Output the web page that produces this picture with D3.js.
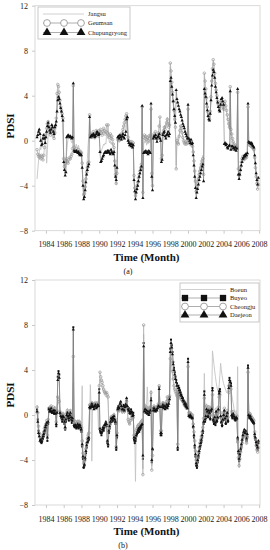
<!DOCTYPE html>
<html>
<head>
<meta charset="utf-8">
<script src="https://cdn.jsdelivr.net/npm/d3@7"></script>
<style>
  body { margin: 0; background: #fff; }
  svg { display: block; font-family: "Liberation Serif", "Times New Roman", serif; }
</style>
</head>
<body>
<div id="chart-area"></div>
<script>
// monthly PDSI, Jan 1983 .. Dec 2007 (one row per year)
const startYear = 1983;
const yearTicks = [1984, 1986, 1988, 1990, 1992, 1994, 1996, 1998, 2000, 2002, 2004, 2006, 2008];
const pdsiTicks = [-8, -4, 0, 4, 8, 12];

const jangsu = [
  -3.4, -2.6, -1.8, -1.0, -0.6, -0.8, -0.4, 0.2, 0.6, 0.4, 0.1, 0.3,
  -0.4, -2.0, -0.8, 0.5, 1.0, 1.2, 0.9, 0.6, 1.1, 0.8, 0.5, 0.3,
  0.5, 0.9, 1.6, 3.5, 4.6, 4.4, 4.0, 3.4, 2.8, 2.4, 2.0, 1.6,
  -1.2, -2.0, -2.6, -2.2, -1.0, -0.3, 0.2, 0.6, 0.4, 0.2, 0.0, -0.2,
  -0.2, 4.6, -0.5, -0.4, -0.6, -0.3, -0.5, -0.7, -0.4, -0.8, -0.9, -0.8,
  -1.0, -2.2, -3.8, -4.5, -4.3, -3.7, -3.0, -2.4, -1.6, -0.4, 0.5, 2.3,
  0.2, 0.3, 0.6, 0.2, 0.4, 0.3, 0.1, 0.3, 0.5, 0.6, 0.4, 0.3,
  0.4, -0.6, -1.2, -0.9, -0.7, -0.5, -0.3, -0.4, -0.2, -0.3, 0.6, 0.2,
  0.8, 0.1, -0.2, 0.0, -0.3, -0.1, -0.4, -0.6, -0.8, -2.0, -3.4, -3.9,
  -2.7, 0.0, 0.2, -0.1, 0.3, 0.2, 0.0, 0.5, 0.8, 1.0, 1.3, 1.6,
  2.0, 2.3, 1.8, 0.2, -0.1, -0.3, -0.2, -0.4, -0.2, -0.5, -0.3, -3.3,
  -4.4, -5.0, -4.5, -4.1, -3.8, -3.4, -3.1, -2.8, -2.5, -2.2, 2.9, -4.9,
  -0.3, 0.0, -0.2, 0.1, -0.4, -0.1, -0.3, 0.0, -0.2, 0.1, 3.0, -3.1,
  -4.2, 0.3, 0.5, 0.4, 0.6, 0.3, 0.0, 0.4, 0.6, 1.1, 1.8, 0.4,
  -1.8, -1.5, 0.7, 1.0, 1.3, 1.1, 1.4, 1.8, 2.1, 1.7, 1.4, 1.5,
  6.6, 5.9, 4.9, 4.0, 3.2, 2.4, 1.5, 0.6, -2.2, 0.3, 0.2, 0.0,
  0.5, 1.0, 1.4, 1.2, 0.8, 0.4, 0.1, -0.1, -0.2, 0.0, -0.2, -0.1,
  3.0, 0.1, -0.1, -0.2, 0.1, -0.3, -0.4, -0.9, -1.6, -2.4, -3.3, -4.2,
  -3.8, -3.5, -3.1, -2.7, -2.4, -2.1, -1.8, -1.5, -1.3, -2.7, 5.8, 5.0,
  4.3, 3.6, 2.9, 2.4, 2.0, 1.8, 2.5, 3.8, 5.1, 6.2, 7.0, 6.6,
  5.8, 5.0, 4.4, 3.9, 3.4, 3.1, 2.9, 2.7, 3.3, 3.5, 3.2, 2.9,
  2.7, 3.1, 3.3, 2.9, 2.5, 2.1, 1.7, 1.3, 1.0, 4.6, 0.8, 0.4,
  0.0, -0.2, -0.4, -0.6, -0.5, -0.8, -0.7, 4.1, -2.7, -3.2, -2.8, -2.4,
  -2.0, -1.7, -1.5, -1.8, -1.6, -1.7, -1.4, -1.6, -1.3, 2.8, -0.2, -0.3,
  -0.4, -0.6, -0.5, -0.7, -0.8, -0.9, -1.4, -2.2, -3.0, -3.6, -4.1, -3.7
];

const geumsan = [
  -0.8, -1.2, -1.4, -1.3, -1.5, -1.6, -1.3, -1.4, -1.7, -1.3, -0.6, 0.3,
  0.6, 1.1, 1.5, 1.7, 1.3, 1.0, 0.5, 0.8, 1.2, 1.0, 0.4, 0.2,
  0.7, 1.3, 2.0, 4.2, 5.0, 4.8, 4.3, 3.6, 3.0, 2.7, 2.4, 2.0,
  -1.6, -2.3, -2.0, -1.8, -1.6, -1.9, -2.0, -1.7, -1.5, -1.6, -1.4, -1.2,
  -0.7, 4.9, -0.6, -0.8, -0.9, -0.7, -0.9, -1.0, -0.8, -1.0, -1.1, -1.0,
  -1.1, -2.0, -3.6, -4.8, -4.7, -4.1, -3.4, -2.8, -2.4, -2.0, -1.9, 2.3,
  0.5, 0.6, 0.3, 0.5, 0.8, 0.6, 0.4, 0.6, 0.9, 0.7, 0.5, 0.4,
  0.9, 0.8, 1.0, 0.7, 0.5, 0.8, 1.1, 0.9, 0.6, 0.8, 1.4, 0.7,
  1.4, 0.5, 0.3, 0.6, 0.2, 0.4, 0.1, -0.3, -0.6, -1.8, -3.0, -3.8,
  -2.9, 0.1, 0.3, 0.0, 0.4, 0.5, 0.3, 0.7, 1.0, 1.3, 1.6, 1.9,
  2.2, 2.4, 2.0, 0.3, 0.0, -0.2, -0.1, -0.3, -0.1, -0.4, -0.2, -3.1,
  -4.2, -4.9, -4.4, -4.0, -3.7, -3.3, -3.0, -2.7, -2.4, -2.1, 3.0, -4.6,
  0.3, 0.5, 0.2, 0.4, 0.1, 0.3, 0.0, 0.4, 0.2, 0.5, 2.8, -2.9,
  -4.0, 0.4, 0.6, 0.5, 0.8, 0.4, 0.2, 0.5, 0.7, 1.3, 2.1, 0.6,
  -1.6, -1.3, 0.6, 0.9, 1.2, 1.0, 1.3, 1.6, 1.9, 1.5, 1.2, 1.4,
  6.9, 6.2, 5.2, 4.3, 3.5, 2.7, 1.9, 1.2, -2.5, 0.0, -0.2, -0.3,
  0.4, 0.9, 1.3, 1.1, 0.7, 0.3, 0.0, -0.2, -0.3, -0.1, -0.3, -0.2,
  2.8, 0.0, -0.2, -0.3, 0.0, -0.4, -0.5, -1.0, -1.8, -2.7, -3.6, -4.5,
  -4.1, -3.8, -3.4, -3.0, -2.7, -2.4, -2.1, -1.8, -1.6, -3.0, 6.0, 5.3,
  4.6, 3.8, 3.0, 2.5, 2.1, 1.9, 2.6, 3.9, 5.3, 6.4, 7.2, 6.8,
  6.0, 5.1, 4.5, 4.0, 3.5, 3.2, 3.0, 2.8, 3.4, 3.6, 3.3, 3.0,
  2.8, 3.3, 3.5, 3.1, 2.7, 2.3, 1.9, 1.5, 1.2, 4.8, 1.0, 0.6,
  0.2, -0.1, -0.3, -0.5, -0.4, -0.7, -0.6, 4.3, -2.5, -3.1, -2.7, -2.3,
  -1.9, -1.6, -1.4, -1.7, -1.5, -1.6, -1.3, -1.5, -1.2, 3.0, -0.3, -0.4,
  -0.3, -0.5, -0.4, -0.6, -0.7, -0.8, -1.5, -2.4, -3.2, -3.8, -4.3, -3.9
];

const chupungryong = [
  0.3, 0.5, 0.8, 1.0, 0.6, 0.0, -0.4, -0.3, 0.2, 0.5, 0.2, -0.2,
  0.3, 0.8, 1.3, 1.6, 1.2, 0.9, 0.7, 1.0, 1.4, 1.2, 0.8, 0.6,
  1.2, 1.4, 1.7, 2.6, 3.6, 3.9, 3.7, 3.3, 2.9, 2.6, 2.2, 1.8,
  -1.9, -2.6, -3.1, -2.8, 0.3, 0.4, 0.5, 0.4, 0.3, 0.4, 0.3, 0.2,
  0.3, 5.1, -0.9, -1.0, -1.0, -0.9, -1.0, -1.1, -1.0, -1.2, -1.3, -1.2,
  -1.3, -2.4, -4.0, -5.2, -5.0, -4.4, -3.7, -3.0, -2.6, -2.3, -2.1, 2.1,
  0.3, 0.4, 0.5, 0.4, 0.6, 0.5, 0.3, 0.4, 0.6, 0.8, 0.7, 0.5,
  0.6, -1.0, -1.9, -1.8, -1.6, -1.4, -1.3, -1.1, -1.0, -1.0, -1.1, -0.9,
  -1.0, -0.9, -1.1, -1.2, -0.8, -1.0, -1.1, -1.2, -1.0, -2.2, -3.2, -3.5,
  -2.4, 0.3, 0.4, 0.2, 0.5, 0.3, 0.1, 0.4, 0.6, 0.3, 0.2, 0.5,
  0.8, 1.9, 2.1, 0.0, -0.2, -0.4, -0.3, -0.5, -0.3, -0.6, -0.4, -3.5,
  -4.5, -5.2, -4.6, -4.3, -4.0, -3.6, -3.2, -2.9, -2.6, -2.3, 3.1, -5.1,
  -1.1, -1.0, -1.0, -0.9, -1.1, -1.0, -1.2, -0.9, -1.0, -1.1, 3.3, -3.2,
  -4.4, 0.2, 0.4, 0.3, 0.5, 0.2, -0.1, 0.3, 0.4, 0.6, 0.2, 0.0,
  -1.9, -1.7, 0.5, 0.7, 0.8, 0.4, 0.2, 0.5, 0.6, 0.8, 0.4, 0.6,
  5.3, 5.6, 4.8, 4.1, 3.5, 2.8, 2.2, 1.6, 4.5, 3.7, 3.4, 3.1,
  2.8, 2.6, 2.3, 2.1, 1.8, 1.5, 1.3, 1.1, 0.8, 0.6, 0.4, 0.2,
  3.2, 0.2, 0.0, -0.2, 0.1, -0.3, -0.2, -1.3, -2.2, -3.2, -4.2, -5.1,
  -4.6, -4.3, -3.9, -3.5, -3.2, -2.9, -2.6, -2.3, -2.1, -3.6, 4.6, 4.2,
  3.9, 3.3, 2.7, 2.2, 1.9, 1.8, 2.4, 3.6, 4.9, 5.8, 6.3, 6.1,
  5.6, 4.8, 4.3, 3.8, 3.4, 3.0, 2.7, 2.6, 3.2, 3.7, 3.8, 3.5,
  3.2, -0.3, -0.2, -0.4, -0.3, -0.6, -0.7, -0.5, -0.4, 4.4, -0.8, -0.5,
  -0.5, -0.7, -0.6, -0.8, -0.6, -0.9, -0.7, 4.6, -3.0, -3.4, -3.0, -2.6,
  -2.2, -1.9, -1.6, -1.5, -1.3, -1.4, -1.2, -1.3, -1.1, 3.3, -0.1, -0.2,
  -0.2, -0.3, -0.2, -0.4, -0.5, -0.6, -1.3, -2.0, -2.9, -3.5, -3.9, -3.3
];

const boeun = [
  0.9, 0.5, -1.2, -1.8, -2.2, -2.5, -2.3, -2.0, -1.8, -1.6, -1.3, -1.1,
  -1.0, -1.4, -2.4, -0.9, 0.2, 0.4, 0.3, 0.5, 0.6, 0.3, 0.6, 0.5,
  0.8, 0.4, -0.3, 0.6, 1.2, 1.0, 0.9, 0.5, 0.3, 0.2, 0.0, 0.3,
  0.2, -0.2, -1.0, -0.1, 0.3, 0.6, 0.3, 0.1, 0.4, 0.5, 0.2, -0.1,
  0.1, 2.8, -0.5, -0.6, -0.4, -0.5, -0.6, -0.4, -0.5, -0.4, -0.5, -0.7,
  -0.9, 2.6, -3.1, -4.0, -3.8, -3.3, -2.7, -2.2, -1.9, -1.6, -1.4, -0.6,
  2.7, 0.6, -4.1, 0.8, 0.6, 0.5, 0.7, 0.8, 0.5, 0.6, 0.8, -1.3,
  1.8, 3.2, 2.9, 2.6, 2.4, 2.2, 2.0, 1.8, 1.7, 1.6, 1.7, 1.5,
  1.2, -1.0, -0.6, -0.3, 0.0, -0.1, 0.1, 0.0, 0.2, -0.1, -0.3, -2.6,
  -1.4, 0.2, 0.4, 0.2, 0.6, 0.8, 0.4, 0.1, 0.2, 0.5, 0.1, 0.4,
  0.5, 1.0, 0.4, -0.6, -0.8, -0.9, -0.7, -0.5, -0.3, -0.5, -0.4, -1.6,
  -1.8, -5.9, -1.2, -1.0, -0.8, -0.7, -0.8, -0.6, -0.5, -0.4, -0.3, -4.8,
  7.2, 0.8, 1.0, 0.7, 0.9, 2.5, 0.8, 0.5, 0.7, 0.9, 2.2, -4.5,
  -3.3, 0.6, 0.9, 0.7, 0.6, 0.8, 0.7, 0.9, 1.1, 2.2, 1.0, -1.2,
  -1.2, 1.0, 1.2, 1.0, 1.1, 0.9, 1.1, 1.3, 1.7, 1.4, 1.5, 1.8,
  4.3, 4.8, 4.2, 3.5, 3.0, 2.5, 2.2, 2.0, 1.8, 1.6, -2.4, 1.8,
  1.7, 1.6, 1.4, 1.3, 1.2, 1.1, 1.0, 0.8, 0.7, 0.6, 0.5, 0.5,
  3.9, 0.3, 0.1, 0.3, 0.2, 0.0, 0.1, -0.6, -1.3, -2.1, -2.9, -3.8,
  -4.0, -3.6, -3.1, -2.7, -2.3, -2.0, -1.7, -1.3, -0.9, -0.1, 3.7, 0.3,
  0.5, 1.0, 0.7, 0.4, 0.9, 0.6, 0.2, 0.8, 1.5, 5.7, 5.1, 4.5,
  3.9, 3.4, 2.9, 2.5, 2.2, 2.0, 2.6, 3.5, 4.6, 4.0, 3.5, 3.1,
  2.8, 2.6, 2.4, 2.2, 2.0, 2.1, 2.3, 2.5, 2.7, 2.4, 2.1, 1.8,
  1.4, 1.0, 0.6, 0.3, 0.2, 0.4, 0.1, 4.3, -4.0, -4.7, -4.1, -3.5,
  -3.0, -2.6, -2.2, -1.9, -1.7, -2.0, -1.8, -2.6, -2.1, 3.6, 0.3, 0.1,
  0.2, 0.0, -0.1, -0.2, -0.3, -0.4, -1.4, -2.0, -2.6, -3.0, -3.2, -2.8
];

const buyeo = [
  0.5, -0.4, -1.4, -1.7, -2.2, -2.4, -2.5, -2.3, -2.1, -1.9, -1.6, -1.3,
  -1.1, -0.9, -2.3, -0.8, 0.6, 0.4, 0.3, 0.5, 0.2, 0.4, 0.3, 0.1,
  0.3, 0.2, -1.0, 0.3, 3.4, 3.9, 3.6, 0.1, 0.0, -0.3, -0.6, -0.2,
  -0.4, -0.8, -1.3, -0.6, -0.2, 0.1, -0.3, -0.5, -0.2, 0.1, -0.4, -0.7,
  -0.5, 7.8, -1.0, -1.1, -1.0, -1.2, -1.1, -1.0, -1.2, -1.1, -1.0, -1.3,
  -1.5, -2.8, -3.9, -4.7, -4.5, -4.0, -3.4, -2.9, -2.5, -2.3, -2.2, 0.6,
  0.8, 0.7, 0.9, 1.0, 0.8, 0.6, 0.9, 1.0, 0.7, 0.8, 1.0, 0.9,
  2.3, -1.4, -1.6, -1.8, -1.5, -1.3, -1.4, -1.1, -0.9, -0.8, -1.0, -2.5,
  -2.8, -1.6, -1.2, -0.8, -0.5, -0.6, -0.4, -0.5, -0.3, -0.6, -0.8, -3.1,
  -2.0, 0.6, 0.8, 0.5, 0.9, 1.1, 0.7, 0.4, 0.6, 0.9, 0.5, 0.8,
  1.0, 1.3, 0.7, 0.4, 0.6, 0.3, 0.2, 0.5, 0.3, 0.0, 0.2, -2.2,
  -2.5, -2.3, -1.9, -1.7, -1.6, -1.4, -1.5, -1.3, -1.2, -1.1, -0.9, -3.9,
  6.4, 0.4, 0.6, 0.3, 0.5, 0.2, 0.4, 0.1, 0.3, 0.5, 1.5, -4.2,
  -3.1, 0.6, 0.7, 0.5, 0.4, 0.6, 0.5, 0.7, 0.9, 2.5, 0.8, -1.8,
  -1.8, 0.8, 1.0, 0.7, 0.9, 0.6, 0.8, 1.0, 0.7, 0.9, 1.2, 1.6,
  5.9, 6.7, 6.2, 5.6, 4.7, 4.2, 3.8, 3.4, 3.1, 2.8, -3.1, 2.6,
  2.4, 2.2, 2.0, 1.8, 1.6, 1.5, 1.3, 1.2, 1.1, 1.0, 0.9, 0.8,
  5.0, 0.0, -0.2, 0.1, -0.1, -0.3, -0.2, -1.1, -2.0, -2.9, -3.7, -4.5,
  -4.7, -4.2, -3.8, -3.4, -3.0, -2.7, -2.4, -2.0, -1.6, -0.8, 2.1, -0.6,
  -0.3, 0.4, 0.2, -0.2, 0.5, 0.1, -0.4, 0.3, 0.6, 2.4, -0.5, -0.8,
  -0.4, -0.9, 0.2, -0.6, -0.3, 0.4, 2.1, 2.3, -0.2, -0.7, -1.0, -0.5,
  -0.1, 0.3, -0.4, -0.8, -0.2, 0.1, -0.6, 2.6, 3.3, 3.0, 2.8, -0.1,
  -0.3, 0.0, -0.2, -0.4, -0.5, -0.3, -0.4, -2.2, -3.4, -4.1, -3.7, -3.2,
  -2.8, -2.4, -2.0, -1.7, -1.5, -1.8, -1.6, -2.3, -1.9, 4.4, -0.1, -0.3,
  -0.2, -0.4, -0.5, -0.6, -0.7, -0.8, -1.9, -2.2, -2.6, -2.9, -3.1, -2.5
];

const cheongju = [
  0.7, 0.2, -1.0, -1.6, -2.0, -2.2, -2.1, -1.9, -1.7, -1.5, -1.2, -1.0,
  -0.8, -0.5, -1.8, -0.4, 0.6, 0.5, 0.7, 0.8, 0.6, 0.5, 0.7, 0.4,
  0.6, 0.3, -0.6, 0.4, 1.6, 1.4, 1.2, 0.3, 0.1, 0.0, -0.2, 0.1,
  0.0, -0.4, -1.2, -0.3, 0.2, 0.4, 0.1, -0.1, 0.2, 0.4, 0.0, -0.3,
  -0.1, 5.2, -0.7, -0.8, -0.6, -0.7, -0.8, -0.6, -0.7, -0.6, -0.7, -0.9,
  -1.1, -2.3, -3.4, -4.3, -4.1, -3.6, -3.0, -2.5, -2.1, -1.8, -1.6, 0.9,
  0.9, 0.9, 1.1, 1.0, 0.8, 0.7, 1.0, 1.1, 0.9, 0.9, 1.1, 1.0,
  2.6, 3.8, 3.4, 3.1, 2.9, 2.6, 2.3, 2.1, 2.0, 1.9, 2.0, 1.8,
  1.6, -1.3, -0.9, -0.5, -0.2, -0.3, -0.1, -0.2, 0.0, -0.3, -0.5, -2.8,
  -1.6, 0.4, 0.6, 0.4, 0.8, 1.0, 0.6, 0.3, 0.4, 0.7, 0.3, 0.6,
  0.7, 1.2, 0.6, -0.4, -0.6, -0.8, -0.5, -0.3, -0.1, -0.3, -0.2, -1.8,
  -2.0, -1.8, -1.4, -1.2, -1.0, -0.9, -1.0, -0.8, -0.7, -0.6, -0.5, -5.3,
  8.0, 0.6, 0.8, 0.5, 0.7, 0.4, 0.6, 0.3, 0.5, 0.7, 2.0, -4.9,
  -3.6, 0.5, 0.8, 0.6, 0.5, 0.7, 0.6, 0.8, 1.0, 2.6, 0.9, -1.4,
  -1.4, 0.9, 1.1, 0.9, 1.0, 0.8, 1.0, 1.2, 1.6, 1.3, 1.4, 1.7,
  5.0, 5.6, 4.8, 3.9, 3.2, 2.6, 2.3, 2.1, 1.9, 1.7, -2.6, 1.9,
  1.8, 1.7, 1.5, 1.4, 1.3, 1.2, 1.1, 0.9, 0.8, 0.7, 0.6, 0.6,
  4.3, 0.2, 0.0, 0.2, 0.1, -0.1, 0.0, -0.8, -1.5, -2.3, -3.2, -4.0,
  -4.3, -3.8, -3.3, -2.9, -2.5, -2.2, -1.9, -1.5, -1.1, -0.3, 1.5, 0.1,
  0.3, 0.8, 0.5, 0.2, 0.7, 0.4, 0.0, 0.6, 0.7, 1.8, -0.1, -0.3,
  0.1, -0.4, 0.5, -0.2, 0.1, 0.7, 1.6, 1.8, 0.2, -0.3, -0.6, -0.1,
  0.2, 0.6, 0.0, -0.4, 0.1, 0.4, -0.2, 2.0, 2.6, 2.5, 2.3, 0.3,
  0.1, 0.3, 0.0, -0.2, -0.2, 0.0, -0.1, -2.4, -3.8, -4.5, -3.9, -3.3,
  -2.9, -2.5, -2.1, -1.8, -1.6, -1.9, -1.7, -2.5, -2.0, 3.8, 0.2, 0.0,
  0.1, -0.1, -0.2, -0.3, -0.4, -0.5, -1.5, -2.1, -2.7, -3.1, -3.3, -2.9
];

const daejeon = [
  0.3, -0.6, -1.6, -1.9, -2.3, -2.2, -2.4, -2.1, -1.9, -1.7, -1.4, -1.1,
  -0.9, -0.7, -2.0, -0.6, 0.5, 0.3, 0.4, 0.6, 0.3, 0.2, 0.4, 0.2,
  0.4, 0.1, -0.8, 0.2, 3.1, 3.7, 3.3, 0.2, -0.1, -0.2, -0.4, -0.1,
  -0.2, -0.6, -1.1, -0.4, 0.0, 0.2, -0.1, -0.3, 0.0, 0.2, -0.2, -0.5,
  -0.3, 7.6, -0.9, -1.0, -0.9, -1.0, -1.0, -0.8, -1.0, -0.9, -0.9, -1.1,
  -1.3, -2.6, -3.7, -4.6, -4.4, -3.8, -3.2, -2.7, -2.4, -2.1, -2.0, 0.7,
  0.6, 0.8, 1.0, 0.8, 0.7, 0.5, 0.8, 0.9, 0.6, 0.7, 0.9, 0.8,
  2.0, -1.2, -1.5, -1.6, -1.3, -1.1, -1.2, -0.9, -0.8, -0.6, -0.8, -2.3,
  -2.6, -1.4, -1.0, -0.6, -0.3, -0.4, -0.2, -0.3, -0.1, -0.4, -0.6, -2.9,
  -1.8, 0.5, 0.7, 0.6, 1.0, 1.2, 0.8, 0.5, 0.5, 0.8, 0.4, 0.7,
  0.9, 1.5, 0.8, 0.5, 0.4, 0.2, 0.1, 0.3, 0.2, -0.1, 0.0, -2.0,
  -2.3, -2.1, -1.8, -1.6, -1.4, -1.2, -1.3, -1.1, -1.0, -0.9, -0.8, -3.6,
  6.1, 0.3, 0.5, 0.2, 0.4, 0.1, 0.3, 0.0, 0.2, 0.4, 1.3, -4.0,
  -3.0, 0.4, 0.6, 0.4, 0.3, 0.5, 0.4, 0.6, 0.8, 2.3, 0.7, -1.6,
  -1.6, 0.7, 0.9, 0.6, 0.8, 0.5, 0.7, 0.9, 0.6, 0.8, 1.0, 1.4,
  5.6, 6.4, 6.0, 5.4, 4.5, 4.0, 3.6, 3.2, 2.9, 2.6, -2.9, 2.4,
  2.2, 2.0, 1.8, 1.7, 1.5, 1.3, 1.2, 1.0, 0.9, 0.8, 0.7, 0.6,
  4.7, -0.1, -0.1, 0.0, -0.2, -0.2, -0.3, -1.0, -1.8, -2.7, -3.5, -4.3,
  -4.5, -4.0, -3.6, -3.2, -2.8, -2.5, -2.2, -1.8, -1.4, -0.6, 1.8, -0.4,
  -0.1, 0.5, 0.3, -0.1, 0.4, 0.2, -0.3, 0.4, 0.5, 2.2, -0.4, -0.6,
  -0.2, -0.7, 0.3, -0.5, -0.2, 0.5, 1.9, 2.1, -0.1, -0.6, -0.9, -0.4,
  0.0, 0.4, -0.3, -0.7, -0.1, 0.2, -0.5, 2.4, 3.1, 2.9, 2.6, 0.0,
  -0.2, 0.1, -0.1, -0.3, -0.4, -0.2, -0.3, -2.0, -3.2, -3.9, -3.5, -3.0,
  -2.6, -2.2, -1.8, -1.5, -1.3, -1.6, -1.4, -2.1, -1.7, 4.2, 0.0, -0.2,
  -0.1, -0.3, -0.4, -0.5, -0.6, -0.7, -1.7, -2.0, -2.4, -2.7, -2.9, -2.3
];

const chartSize = { width: 270, height: 550 };
const plotLeft = 35, plotRight = 260;

const panels = [
  {
    top: 5.7, bottom: 230.7, tag: "(a)", tagX: 128, pdsiY: 126,
    series: [
      { name: "Jangsu", values: jangsu, kind: "line" },
      { name: "Geumsan", values: geumsan, kind: "circle" },
      { name: "Chupungryong", values: chupungryong, kind: "triangle" }
    ],
    legend: { x: 38, y: 7, w: 92, h: 32, rowY: [14, 23, 32.5], m: [47, 64, 81], lineX: [43, 84], textX: 88 }
  },
  {
    top: 280, bottom: 505, tag: "(b)", tagX: 123, pdsiY: 395,
    series: [
      { name: "Boeun", values: boeun, kind: "line" },
      { name: "Buyeo", values: buyeo, kind: "square" },
      { name: "Cheongju", values: cheongju, kind: "circle" },
      { name: "Daejeon", values: daejeon, kind: "triangle" }
    ],
    legend: { x: 180, y: 283, w: 79, h: 39, rowY: [289.5, 298, 306.5, 315], m: [185, 204, 223], lineX: [181, 226], textX: 230 }
  }
];

const toPoints = values => values.map((v, i) => ({ t: startYear + i / 12, v }));

const drawMarker = (g, kind, x, y, big) => {
  if (kind === "circle") {
    g.append("circle").attr("cx", x).attr("cy", y).attr("r", big ? 3.4 : 1.3)
      .attr("fill", big ? "#fff" : "none").attr("stroke", "#999").attr("stroke-width", big ? 0.9 : 0.7);
  } else if (kind === "triangle" || kind === "square") {
    const type = kind === "triangle" ? d3.symbolTriangle : d3.symbolSquare;
    g.append("path").attr("d", d3.symbol().type(type).size(big ? (kind === "triangle" ? 34 : 40) : (kind === "triangle" ? 4.5 : 4))())
      .attr("transform", `translate(${x},${y})`).attr("fill", "#111");
  }
};

const drawPanel = (svg, p) => {
  const x = d3.scaleLinear().domain([1982.77, 2008.1]).range([plotLeft, plotRight]);
  const y = d3.scaleLinear().domain([-8, 12]).range([p.bottom, p.top]);
  const g = svg.append("g");

  // frame
  g.append("rect").attr("x", plotLeft).attr("y", p.top)
    .attr("width", plotRight - plotLeft).attr("height", p.bottom - p.top)
    .attr("fill", "none").attr("stroke", "#d0d0d0").attr("stroke-width", 0.8);

  const yAxis = d3.axisLeft(y).tickValues(pdsiTicks).tickSize(3).tickPadding(4);
  g.append("g").attr("class", "y axis").attr("transform", `translate(${plotLeft},0)`).call(yAxis);

  const xAxis = d3.axisBottom(x).tickValues(yearTicks).tickFormat(d3.format("d")).tickSize(3).tickPadding(8);
  g.append("g").attr("class", "x axis").attr("transform", `translate(0,${p.bottom})`).call(xAxis);

  g.selectAll(".axis .domain").remove();
  g.selectAll(".axis line").attr("stroke", "#c8c8c8");
  g.selectAll(".axis text").attr("font-size", 8).attr("fill", "#222")
    .attr("font-family", "Liberation Serif, serif");

  const line = d3.line().x(d => x(d.t)).y(d => y(d.v));

  p.series.forEach(s => {
    const pts = toPoints(s.values);
    const stroke = s.kind === "line" ? "#c4c4c4" : s.kind === "circle" ? "#aaa" : "#777";
    const sw = s.kind === "line" ? 0.9 : 0.6;
    g.append("path").attr("d", line(pts)).attr("fill", "none")
      .attr("stroke", stroke).attr("stroke-width", sw);
    if (s.kind !== "line") {
      const mg = g.append("g");
      pts.forEach(d => drawMarker(mg, s.kind, x(d.t), y(d.v), false));
    }
  });

  // axis titles
  svg.append("text").attr("x", (plotLeft + plotRight) / 2 - 1).attr("y", p.bottom + 30)
    .attr("text-anchor", "middle").attr("font-size", 11).attr("font-weight", "bold")
    .attr("fill", "#111").text("Time (Month)");
  svg.append("text").attr("transform", `translate(14,${p.pdsiY}) rotate(-90)`)
    .attr("text-anchor", "middle").attr("font-size", 11).attr("font-weight", "bold")
    .attr("fill", "#111").text("PDSI");
  svg.append("text").attr("x", p.tagX).attr("y", p.bottom + 43)
    .attr("text-anchor", "middle").attr("font-size", 8).attr("fill", "#111").text(p.tag);

  // legend
  const L = p.legend;
  const lg = svg.append("g").attr("class", "legend");
  lg.append("rect").attr("x", L.x).attr("y", L.y).attr("width", L.w).attr("height", L.h)
    .attr("fill", "#fff").attr("stroke", "#bbb").attr("stroke-width", 0.8);
  p.series.forEach((s, i) => {
    const ry = L.rowY[i];
    lg.append("line").attr("x1", L.lineX[0]).attr("x2", L.lineX[1]).attr("y1", ry).attr("y2", ry)
      .attr("stroke", s.kind === "line" ? "#c4c4c4" : "#999").attr("stroke-width", 0.8);
    if (s.kind !== "line") L.m.forEach(mx => drawMarker(lg, s.kind, mx, ry, true));
    lg.append("text").attr("x", L.textX).attr("y", ry + 2.3).attr("font-size", 6.5)
      .attr("fill", "#222").text(s.name);
  });
};

const main = () => {
  const svg = d3.select("#chart-area").append("svg")
    .attr("width", chartSize.width).attr("height", chartSize.height);
  panels.forEach(p => drawPanel(svg, p));
};

window.onload = main;
</script>
</body>
</html>
